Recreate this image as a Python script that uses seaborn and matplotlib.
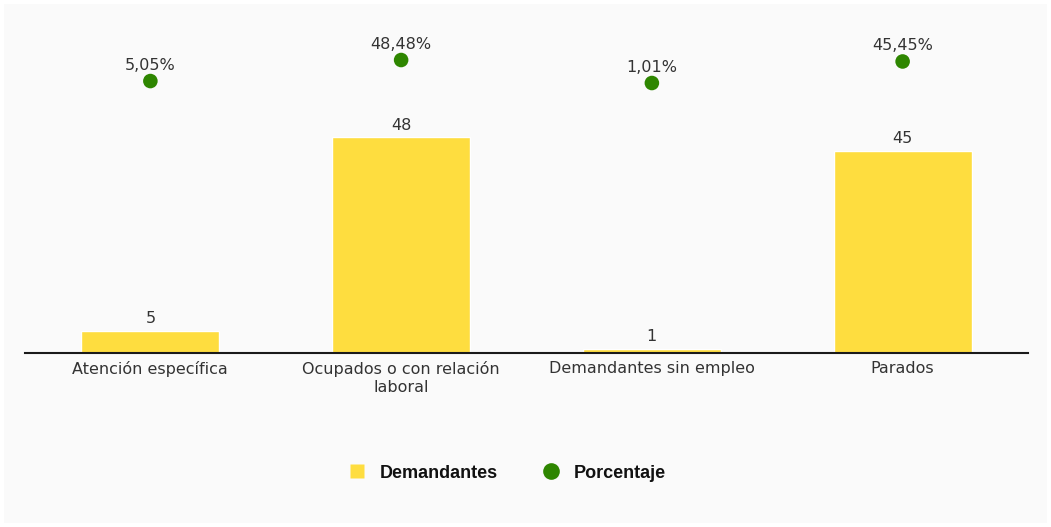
import matplotlib
matplotlib.use("Agg")
import matplotlib.pyplot as plt
from matplotlib.lines import Line2D
from matplotlib.patches import Rectangle
import seaborn as sns
import pandas as pd

# data
categories = ["Atención específica", "Ocupados o con relación\nlaboral",
              "Demandantes sin empleo", "Parados"]
demandantes = [5, 48, 1, 45]
porcentaje = [5.05, 48.48, 1.01, 45.45]
pct_labels = ["5,05%", "48,48%", "1,01%", "45,45%"]

yellow = "#fedd3f"
green = "#2e8600"
text_col = "#333333"

sns.set_style("white")
plt.rcParams["font.family"] = ["DejaVu Sans"]

df = pd.DataFrame({"cat": categories, "dem": demandantes, "pct": porcentaje})

fig = plt.figure(figsize=(10.51, 5.27), dpi=100)
fig.patch.set_facecolor("white")
fig.patches.append(Rectangle((4 / 1051, 4 / 527), 1043 / 1051, 519 / 527,
                             transform=fig.transFigure, facecolor="#fafafa",
                             edgecolor="none", zorder=-10))

ax = fig.add_axes([25 / 1051, (527 - 353) / 527, 1003 / 1051, 333 / 527])
ax.patch.set_alpha(0)

sns.barplot(data=df, x="cat", y="dem", color=yellow, saturation=1,
            width=0.55, ax=ax, zorder=2)
ax.bar_label(ax.containers[0], labels=[str(v) for v in demandantes],
             padding=3, fontsize=11.5, color=text_col)
ax.set_xlim(-0.5, 3.5)
ax.set_ylim(0, 333 / 4.5)
ax.set_xlabel("")
ax.set_ylabel("")
ax.set_yticks([])
ax.tick_params(axis="x", length=0, pad=6, labelsize=11.5, labelcolor=text_col)
for s in ["top", "left", "right"]:
    ax.spines[s].set_visible(False)
ax.spines["bottom"].set_color("#1a1a1a")
ax.spines["bottom"].set_linewidth(1.5)

ax2 = ax.twinx()
ax2.patch.set_alpha(0)
sns.scatterplot(data=df, x="cat", y="pct", color=green, s=110,
                edgecolor="none", ax=ax2, zorder=3)
px_per_pct = 0.4845
y0 = -(353 - 83.5) / px_per_pct
ax2.set_ylim(y0, y0 + 333 / px_per_pct)
ax2.set_xlim(-0.5, 3.5)
ax2.set_yticks([])
ax2.set_ylabel("")
for s in ax2.spines.values():
    s.set_visible(False)
for i, (p, lab) in enumerate(zip(porcentaje, pct_labels)):
    ax2.annotate(lab, (i, p), xytext=(0, 6), textcoords="offset points",
                 ha="center", va="bottom", fontsize=11.5, color=text_col)

handles = [
    Line2D([], [], marker="s", linestyle="none", markersize=10,
           markerfacecolor=yellow, markeredgecolor="none", label="Demandantes"),
    Line2D([], [], marker="o", linestyle="none", markersize=12,
           markerfacecolor=green, markeredgecolor="none", label="Porcentaje"),
]
leg = fig.legend(handles=handles, loc="center",
                 bbox_to_anchor=(507 / 1051, 1 - 473 / 527),
                 ncol=2, frameon=False, handlelength=1.0, handletextpad=0.78,
                 columnspacing=2.4,
                 prop={"family": "Liberation Sans", "weight": "bold", "size": 13})
for t in leg.get_texts():
    t.set_color("#111111")

fig.savefig("out.png", dpi=100)
